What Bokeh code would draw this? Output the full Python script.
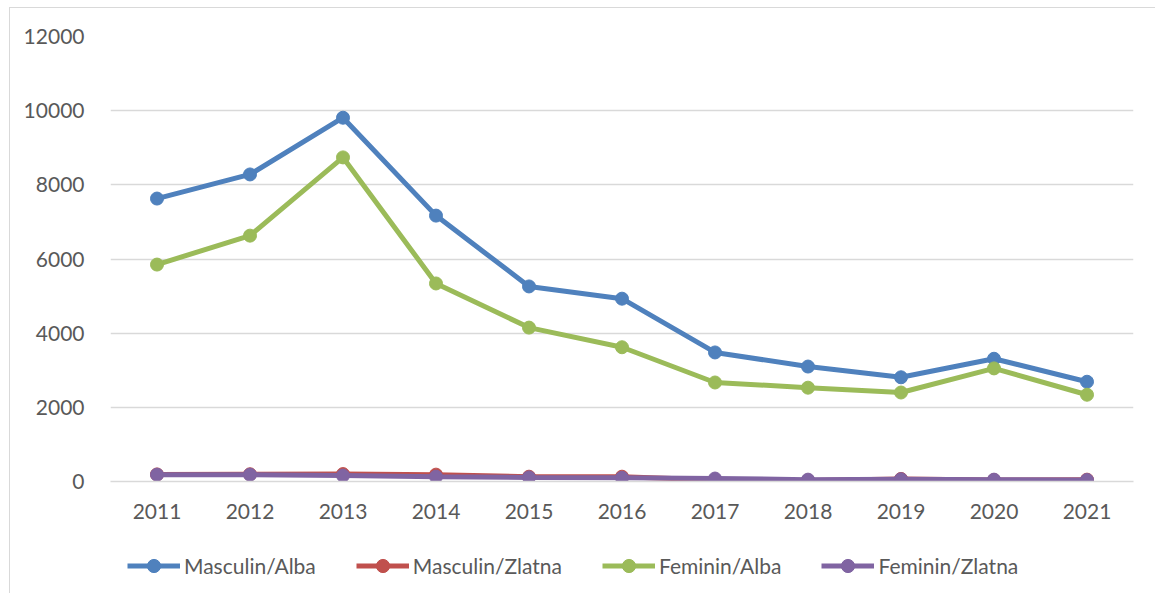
from bokeh.plotting import figure
from bokeh.layouts import column
from bokeh.models import Legend, LegendItem, FactorRange, Range1d, SingleIntervalTicker
from bokeh.embed import file_html
from bokeh.resources import INLINE

years = ["2011", "2012", "2013", "2014", "2015", "2016", "2017", "2018", "2019", "2020", "2021"]
masculin_alba = [7630, 8280, 9810, 7170, 5260, 4930, 3480, 3100, 2810, 3310, 2690]
masculin_zlatna = [190, 195, 200, 185, 130, 130, 40, 30, 70, 40, 50]
feminin_alba = [5850, 6630, 8740, 5340, 4150, 3620, 2670, 2530, 2400, 3050, 2340]
feminin_zlatna = [185, 185, 160, 130, 110, 100, 80, 50, 60, 50, 40]

series = [
    ("Masculin/Alba", masculin_alba, "#4F81BD"),
    ("Masculin/Zlatna", masculin_zlatna, "#C0504D"),
    ("Feminin/Alba", feminin_alba, "#9BBB59"),
    ("Feminin/Zlatna", feminin_zlatna, "#8064A2"),
]

FONT = "Lato"
TXT = "#595959"
FS = "21px"

p = figure(
    frame_width=1023, frame_height=445,
    x_range=FactorRange(*years), y_range=Range1d(0, 12000),
    output_backend="svg", toolbar_location=None,
    min_border_left=100, min_border_right=22, min_border_top=28, min_border_bottom=52,
)
p.outline_line_color = None
p.background_fill_color = "white"
p.border_fill_color = "white"

p.xgrid.grid_line_color = None
p.ygrid.grid_line_color = "#d9d9d9"
p.ygrid.grid_line_width = 1.5
p.yaxis.ticker = SingleIntervalTicker(interval=2000)

for ax in (p.xaxis, p.yaxis):
    ax.major_tick_line_color = None
    ax.minor_tick_line_color = None
    ax.major_tick_out = 0
    ax.major_label_text_font = FONT
    ax.major_label_text_font_size = FS
    ax.major_label_text_color = TXT
p.yaxis.axis_line_color = None
p.xaxis.axis_line_color = "#d9d9d9"
p.xaxis.axis_line_width = 1.5
p.yaxis.major_label_standoff = 22
p.xaxis.major_label_standoff = 22

for name, vals, col in series:
    p.line(years, vals, line_color=col, line_width=5)
    p.scatter(years, vals, size=13, fill_color=col, line_color=col)

# legend strip below the chart (its own renderers fall outside its range, only the legend shows)
p2 = figure(
    frame_width=1145, frame_height=60,
    x_range=FactorRange(*years), y_range=Range1d(-2, -1),
    x_axis_location=None, y_axis_location=None,
    output_backend="svg", toolbar_location=None,
    min_border_left=0, min_border_right=0, min_border_top=0, min_border_bottom=0,
)
p2.grid.visible = False
p2.outline_line_color = None
items = []
for name, vals, col in series:
    r1 = p2.line(years, vals, line_color=col, line_width=5)
    r2 = p2.scatter(years, vals, size=13, fill_color=col, line_color=col)
    items.append(LegendItem(label=name, renderers=[r1, r2]))

legend = Legend(
    items=items, orientation="horizontal", location=(117, 11),
    label_text_font=FONT, label_text_font_size=FS, label_text_color=TXT,
    glyph_width=53, glyph_height=33, label_standoff=4, spacing=40,
    padding=0, margin=0, border_line_color=None, background_fill_alpha=0,
)
p2.add_layout(legend, "center")

layout = column(p, p2, spacing=0, margin=(7, 0, 0, 9),
                styles={"border-left": "1px solid #d9d9d9", "border-top": "1px solid #d9d9d9"})
open("out.html", "w").write(file_html(layout, INLINE))
